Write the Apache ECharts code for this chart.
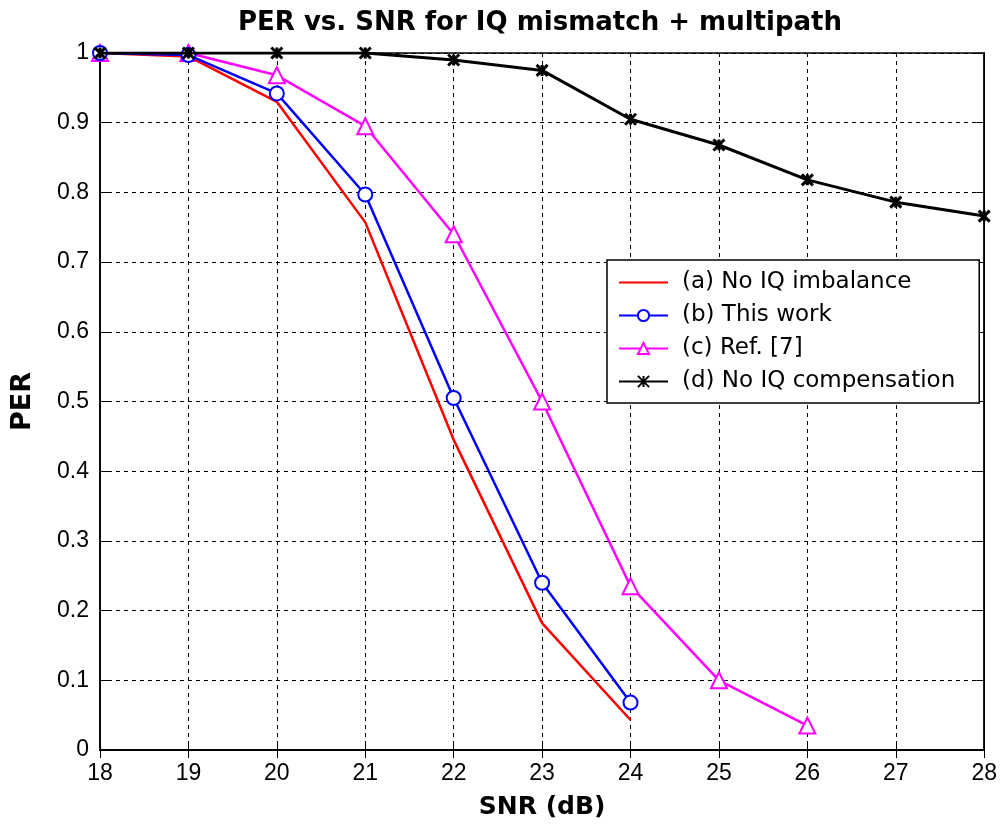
<!DOCTYPE html>
<html><head><meta charset="utf-8">
<script src="https://cdn.jsdelivr.net/npm/echarts@6/dist/echarts.min.js"></script>
<style>html,body{margin:0;padding:0;background:#fff}#c{width:1000px;height:831px}</style>
</head><body><div id="c"></div>
<script>
const snr = [18, 19, 20, 21, 22, 23, 24, 25, 26, 27, 28];
const perNoImbalance = [1, 0.995, 0.93, 0.757, 0.445, 0.182, 0.043];
const perThisWork = [1, 0.997, 0.942, 0.797, 0.505, 0.240, 0.068];
const perRef7 = [1, 1, 0.968, 0.895, 0.740, 0.500, 0.235, 0.100, 0.035];
const perNoComp = [1, 1, 1, 1, 0.990, 0.975, 0.905, 0.868, 0.818, 0.786, 0.766];
const seriesNames = ['(a) No IQ imbalance', '(b) This work', '(c) Ref. [7]', '(d) No IQ compensation'];

const pairs = arr => arr.map((v, i) => [snr[i], v]);
const font = '"Liberation Sans", Arial, sans-serif';
const wide = '"DejaVu Sans", Verdana, sans-serif';
const xPath = 'path://M0,0L10,10M10,0L0,10M5,0L5,10';

const chart = echarts.init(document.getElementById('c'));
const gridLine = {show: true, lineStyle: {color: '#000', type: [4, 4], width: 1}};
chart.setOption({
  backgroundColor: '#fff',
  animation: false,
  title: {text: 'PER vs. SNR for IQ mismatch + multipath', left: 535, top: 5, textAlign: 'center',
    textStyle: {fontFamily: wide, fontSize: 26, fontWeight: 'bold', color: '#000'}},
  grid: {left: 100, right: 15, top: 53, bottom: 81, show: true, borderColor: '#000', borderWidth: 1.5, backgroundColor: '#fff'},
  legend: {
    orient: 'vertical', left: 607, top: 260, itemWidth: 49, itemHeight: 14, itemGap: 10,
    backgroundColor: '#fff', borderColor: '#000', borderWidth: 1.5, padding: [11, 24, 10, 11],
    textStyle: {fontFamily: wide, fontSize: 23, lineHeight: 21, color: '#000', padding: [0, 0, 0, 9]},
    data: [
      {name: seriesNames[0], itemStyle: {opacity: 0}},
      {name: seriesNames[1]},
      {name: seriesNames[2]},
      {name: seriesNames[3]}
    ]
  },
  xAxis: [{
    type: 'value', min: 18, max: 28, interval: 1,
    name: 'SNR (dB)', nameLocation: 'middle', nameGap: 45,
    nameTextStyle: {fontFamily: wide, fontSize: 25, fontWeight: 'bold', color: '#000'},
    axisLine: {show: true, lineStyle: {color: '#000', width: 1.5}},
    axisTick: {show: true, inside: true, length: 8, lineStyle: {color: '#000'}},
    axisLabel: {fontFamily: font, fontSize: 23, color: '#000', margin: 12},
    splitLine: gridLine
  }, {
    type: 'value', min: 18, max: 28, interval: 1, position: 'top',
    axisLine: {show: true, lineStyle: {color: '#000', width: 1.5}},
    axisTick: {show: true, inside: true, length: 8, lineStyle: {color: '#000'}},
    axisLabel: {show: false}, splitLine: {show: false}
  }],
  yAxis: [{
    type: 'value', min: 0, max: 1, interval: 0.1,
    name: 'PER', nameLocation: 'middle', nameGap: 64, nameRotate: 90,
    nameTextStyle: {fontFamily: wide, fontSize: 27, fontWeight: 'bold', color: '#000'},
    axisLine: {show: true, lineStyle: {color: '#000', width: 1.5}},
    axisTick: {show: true, inside: true, length: 8, lineStyle: {color: '#000'}},
    axisLabel: {fontFamily: font, fontSize: 23, color: '#000', margin: 11},
    splitLine: gridLine
  }, {
    type: 'value', min: 0, max: 1, interval: 0.1, position: 'right',
    axisLine: {show: true, lineStyle: {color: '#000', width: 1.5}},
    axisTick: {show: true, inside: true, length: 8, lineStyle: {color: '#000'}},
    axisLabel: {show: false}, splitLine: {show: false}
  }],
  series: [
    {name: seriesNames[0], type: 'line', data: pairs(perNoImbalance), showSymbol: false, symbol: 'none',
      lineStyle: {color: '#ff0000', width: 2.5}, itemStyle: {color: '#ff0000'}, z: 3},
    {name: seriesNames[1], type: 'line', data: pairs(perThisWork), symbol: 'emptyCircle', symbolSize: 14,
      lineStyle: {color: '#0000ff', width: 2.5}, itemStyle: {color: '#0000ff', borderWidth: 2.5}, z: 4},
    {name: seriesNames[2], type: 'line', data: pairs(perRef7), symbol: 'triangle', symbolSize: 16,
      lineStyle: {color: '#ff00ff', width: 2.5}, itemStyle: {color: '#fff', borderColor: '#ff00ff', borderWidth: 2}, z: 2},
    {name: seriesNames[3], type: 'line', data: pairs(perNoComp), symbol: xPath, symbolSize: 11,
      lineStyle: {color: '#000', width: 3}, itemStyle: {color: '#000', borderColor: '#000', borderWidth: 3}, z: 5}
  ]
});
</script></body></html>
